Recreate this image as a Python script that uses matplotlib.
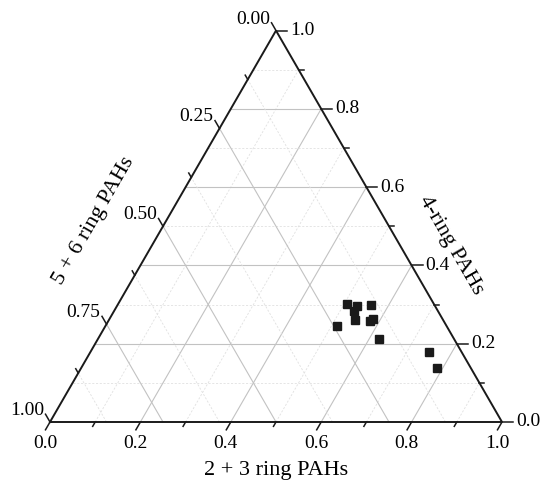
import numpy as np
import matplotlib
matplotlib.use('Agg')
import matplotlib.pyplot as plt

plt.rcParams['font.family'] = ['Liberation Serif', 'DejaVu Serif']

# composition fractions
ring23 = [0.507, 0.531, 0.531, 0.560, 0.544, 0.579, 0.583, 0.512, 0.622, 0.748, 0.787]
ring4 = [0.301, 0.296, 0.284, 0.300, 0.261, 0.257, 0.262, 0.244, 0.212, 0.180, 0.139]

bottom_major = [0.0, 0.2, 0.4, 0.6, 0.8, 1.0]
bottom_minor = [0.1, 0.3, 0.5, 0.7, 0.9]
right_major = [0.0, 0.2, 0.4, 0.6, 0.8, 1.0]
right_minor = [0.1, 0.3, 0.5, 0.7, 0.9]
left_major = [0.0, 0.25, 0.5, 0.75, 1.0]
left_minor = [0.125, 0.375, 0.625, 0.875]

H = np.sqrt(3) / 2


def tern(a, b):
    a = np.asarray(a, dtype=float)
    b = np.asarray(b, dtype=float)
    return a + b / 2, b * H


fig = plt.figure(figsize=(5.44, 4.83), dpi=100)
ax = fig.add_axes([0, 0, 1, 1])
s = 452.0
ax.set_xlim(-50 / s, (544 - 50) / s)
ax.set_ylim(-(483 - 422) / s, 422 / s)
ax.axis('off')

major_kw = dict(color='#c2c2c2', lw=0.8, zorder=1)
minor_kw = dict(color='#e0e0e0', lw=0.6, ls=(0, (2.5, 2)), zorder=1)

# grid: constant 2+3 ring (parallel to left side)
for vals, kw in [(bottom_major[1:-1], major_kw), (bottom_minor, minor_kw)]:
    for v in vals:
        x, y = tern([v, v], [0, 1 - v])
        ax.plot(x, y, **kw)
# grid: constant 4-ring (horizontal)
for vals, kw in [(right_major[1:-1], major_kw), (right_minor, minor_kw)]:
    for v in vals:
        x, y = tern([0, 1 - v], [v, v])
        ax.plot(x, y, **kw)
# grid: constant 5+6 ring (parallel to right side)
for vals, kw in [(left_major[1:-1], major_kw), (left_minor, minor_kw)]:
    for v in vals:
        x, y = tern([1 - v, 0], [0, 1 - v])
        ax.plot(x, y, **kw)

# triangle frame
x, y = tern([0, 1, 0, 0], [0, 0, 1, 0])
ax.plot(x, y, color='#1a1a1a', lw=1.4, zorder=3, solid_joinstyle='miter')

L_maj = 9 / s
L_min = 5 / s
tick_kw = dict(color='#1a1a1a', lw=1.1, zorder=3)
fs = 14

# bottom axis: ticks point down-left
d = np.array([-0.5, -H])
for v in bottom_major + bottom_minor:
    L = L_maj if v in bottom_major else L_min
    x0, y0 = tern(v, 0)
    ax.plot([x0, x0 + d[0] * L], [y0, y0 + d[1] * L], **tick_kw)
for v in bottom_major:
    x0, y0 = tern(v, 0)
    ax.text(x0 - 5 / s, y0 - 13 / s, f'{v:.1f}', ha='center', va='top', fontsize=fs)

# right axis: ticks point right
for v in right_major + right_minor:
    L = 11 / s if v in right_major else L_min
    x0, y0 = tern(1 - v, v)
    ax.plot([x0, x0 + L], [y0, y0], **tick_kw)
for v in right_major:
    x0, y0 = tern(1 - v, v)
    ax.text(x0 + 14 / s, y0, f'{v:.1f}', ha='left', va='center', fontsize=fs)

# left axis: ticks point up-left
d = np.array([-0.5, H])
for v in left_major + left_minor:
    L = L_maj if v in left_major else L_min
    x0, y0 = tern(0, 1 - v)
    ax.plot([x0, x0 + d[0] * L], [y0, y0 + d[1] * L], **tick_kw)
for v in left_major:
    x0, y0 = tern(0, 1 - v)
    ax.text(x0 - 6 / s, y0 + 3 / s, f'{v:.2f}', ha='right', va='bottom', fontsize=fs)

# data
px, py = tern(ring23, ring4)
ax.plot(px, py, 's', color='#1a1a1a', ms=6, zorder=4)

# axis titles
ax.text(0.5, -(471 - 422) / s, '2 + 3 ring PAHs', ha='center', va='center', fontsize=16)
ax.text((94 - 50) / s, (422 - 221) / s, '5 + 6 ring PAHs', ha='center', va='center',
        rotation=60, fontsize=16)
ax.text((451 - 50) / s, (422 - 245) / s, '4-ring PAHs', ha='center', va='center',
        rotation=-60, fontsize=16)

fig.savefig('out.png', dpi=100)
